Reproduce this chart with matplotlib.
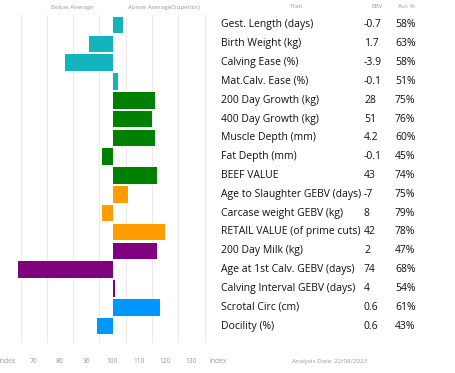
import matplotlib.pyplot as plt
import numpy as np
from matplotlib.transforms import blended_transform_factory

plt.rcParams['font.family'] = ['Open Sans', 'DejaVu Sans']

# Trait table data
traits = ['Gest. Length (days)', 'Birth Weight (kg)', 'Calving Ease (%)', 'Mat.Calv. Ease (%)',
          '200 Day Growth (kg)', '400 Day Growth (kg)', 'Muscle Depth (mm)', 'Fat Depth (mm)',
          'BEEF VALUE', 'Age to Slaughter GEBV (days)', 'Carcase weight GEBV (kg)',
          'RETAIL VALUE (of prime cuts)', '200 Day Milk (kg)', 'Age at 1st Calv. GEBV (days)',
          'Calving Interval GEBV (days)', 'Scrotal Circ (cm)', 'Docility (%)']
ebv = ['-0.7', '1.7', '-3.9', '-0.1', '28', '51', '4.2', '-0.1', '43', '-7', '8', '42',
       '2', '74', '4', '0.6', '0.6']
acc = ['58%', '63%', '58%', '51%', '75%', '76%', '60%', '45%', '74%', '75%', '79%', '78%',
       '47%', '68%', '54%', '61%', '43%']
# Index values (100 = breed average)
index = [104, 91, 82, 102, 116, 115, 116, 96, 117, 106, 96, 120, 117, 64, 100.8, 118, 94]
colors = ['#14b3bd'] * 4 + ['#008000'] * 5 + ['#ff9c00'] * 3 + ['#800080'] * 3 + ['#0096ff'] * 2

tick_vals = [60, 70, 80, 90, 100, 110, 120, 130, 140]
tick_labels = ['Index', '70', '80', '90', '100', '110', '120', '130', 'Index']

W, H = 455, 373
fig = plt.figure(figsize=(W / 100, H / 100), dpi=100)
ax = fig.add_axes([0, 1 - 343 / H, 217.7 / W, (343 - 15) / H])

y = np.arange(len(traits))
base = 100
ax.barh(y, [v - base for v in index], left=base, height=0.88, color=colors)

ax.set_xlim(57.2, 140)
ax.set_ylim(16.9, -0.53)
ax.set_yticks([])
ax.set_xticks(tick_vals)
ax.set_xticklabels(tick_labels, fontsize=4.8, color='#999999')
ax.tick_params(axis='x', length=0, pad=11)
ax.set_xticks(np.arange(60, 140, 5), minor=True)
ax.tick_params(axis='x', which='minor', length=0)
ax.grid(which='minor', axis='x', color='#ebebeb', linewidth=0.8)
ax.set_axisbelow(True)
for s in ax.spines.values():
    s.set_visible(False)

# Headers
hdr = dict(fontsize=4.5, color='#999999', ha='center', va='center')
fig.text(72 / W, 1 - 8 / H, 'Below Average', **hdr)
fig.text(164 / W, 1 - 8 / H, 'Above Average(Superior)', **hdr)
fig.text(297 / W, 1 - 7 / H, 'Trait', **hdr)
fig.text(377 / W, 1 - 7 / H, 'EBV', **hdr)
fig.text(406 / W, 1 - 7 / H, 'Acc %', **hdr)
fig.text(330 / W, 1 - 362 / H, 'Analysis Date: 22/08/2023', **hdr)

# Table rows
tr = blended_transform_factory(fig.transFigure, ax.transData)
for i in range(len(traits)):
    ax.text(221 / W, i, traits[i], transform=tr, fontsize=7.5, color='#111111', va='center', clip_on=False)
    ax.text(364 / W, i, ebv[i], transform=tr, fontsize=7.5, color='#111111', va='center', clip_on=False)
    ax.text(395 / W, i, acc[i], transform=tr, fontsize=7.5, color='#111111', va='center', clip_on=False)

fig.savefig('out.png', dpi=100)
